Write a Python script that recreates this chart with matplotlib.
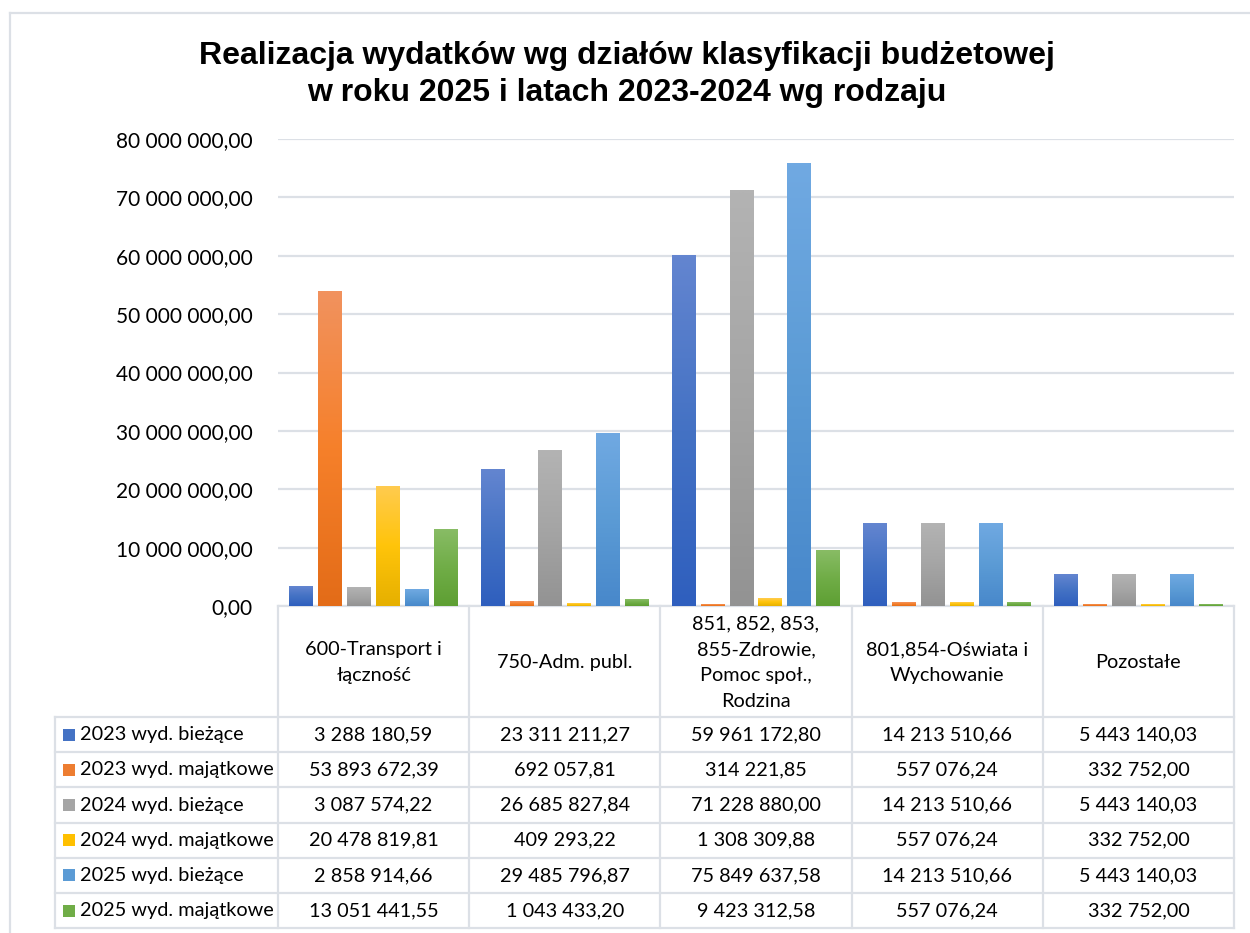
import numpy as np
import matplotlib
matplotlib.use("Agg")
import matplotlib.pyplot as plt
from matplotlib.patches import Rectangle
from matplotlib.colors import to_rgb

# ---------------- data ----------------
categories = [
    "600-Transport i\nłączność",
    "750-Adm. publ.",
    "851, 852, 853,\n855-Zdrowie,\nPomoc społ.,\nRodzina",
    "801,854-Oświata i\nWychowanie",
    "Pozostałe",
]
series_names = [
    "2023 wyd. bieżące",
    "2023 wyd. majątkowe",
    "2024 wyd. bieżące",
    "2024 wyd. majątkowe",
    "2025 wyd. bieżące",
    "2025 wyd. majątkowe",
]
v2023_biezace = [3288180.59, 23311211.27, 59961172.80, 14213510.66, 5443140.03]
v2023_majatkowe = [53893672.39, 692057.81, 314221.85, 557076.24, 332752.00]
v2024_biezace = [3087574.22, 26685827.84, 71228880.00, 14213510.66, 5443140.03]
v2024_majatkowe = [20478819.81, 409293.22, 1308309.88, 557076.24, 332752.00]
v2025_biezace = [2858914.66, 29485796.87, 75849637.58, 14213510.66, 5443140.03]
v2025_majatkowe = [13051441.55, 1043433.20, 9423312.58, 557076.24, 332752.00]
series_values = [v2023_biezace, v2023_majatkowe, v2024_biezace,
                 v2024_majatkowe, v2025_biezace, v2025_majatkowe]
yticks = [0, 10e6, 20e6, 30e6, 40e6, 50e6, 60e6, 70e6, 80e6]

title_l1 = "Realizacja wydatków wg działów klasyfikacji budżetowej"
title_l2 = "w roku 2025 i latach 2023-2024 wg rodzaju"

# ---------------- style ----------------
# gradient stops (top, middle, bottom) per series
grad = [
    ("#6385D0", "#4472C4", "#2F5FBE"),
    ("#F1925E", "#F6802A", "#E36C18"),
    ("#B3B3B3", "#A5A5A5", "#939393"),
    ("#FFCB4E", "#FFC40A", "#E6B000"),
    ("#70A9E2", "#5B9BD5", "#4888CB"),
    ("#88BC65", "#70AD47", "#5E9F33"),
]
legend_col = ["#4472C4", "#ED7D31", "#A5A5A5", "#FFC000", "#5B9BD5", "#70AD47"]
line_col = "#DCE0E6"
FONT = "Lato"
FS = 15
TFS = 14.3

W, H = 1250, 933
fig = plt.figure(figsize=(W / 100, H / 100), dpi=100)

def fx(x):
    return x / W

def fy(y):
    return 1 - y / H

# plot area in pixels
L, R, T, B = 278, 1234, 139, 606
ax = fig.add_axes([fx(L), fy(B), fx(R - L), (B - T) / H])
ax.set_facecolor("none")

n = len(categories)
x = np.arange(n)
bw = 0.125
step = 0.151
bars_all = []
for i, vals in enumerate(series_values):
    bars = ax.bar(x + (i - 2.5) * step, vals, width=bw, color=legend_col[i],
                  zorder=2, linewidth=0)
    bars_all.append(bars)

# gradient fill on each bar
for i, bars in enumerate(bars_all):
    top, mid, bot = (np.array(to_rgb(c)) for c in grad[i])
    t = np.linspace(0, 1, 64)[:, None]
    col = np.where(t < 0.5, top + (mid - top) * (t / 0.5),
                   mid + (bot - mid) * ((t - 0.5) / 0.5))
    img = col[:, None, :]
    for p in bars:
        x0, w, h = p.get_x(), p.get_width(), p.get_height()
        ax.imshow(img, extent=[x0, x0 + w, 0, h], aspect="auto",
                  zorder=3, interpolation="bilinear")

ax.set_xlim(-0.5, n - 0.5)
ax.set_ylim(0, 80e6)
ax.set_yticks(yticks)
ax.set_yticklabels([f"{int(v):,}".replace(",", " ") + ",00" for v in yticks],
                   fontsize=FS, family=FONT, color="#000000")
ax.tick_params(axis="y", length=0, pad=18.3)
ax.set_xticks([])
ax.grid(axis="y", color=line_col, linewidth=1.6, zorder=0)
for s in ax.spines.values():
    s.set_visible(False)

# overlay for frame, title and table
ov = fig.add_axes([0, 0, 1, 1], zorder=-1)
ov.set_xlim(0, W)
ov.set_ylim(H, 0)
ov.axis("off")

# outer frame
ov.plot([10, 10], [H + 5, 13], color=line_col, lw=1.6)
ov.plot([10, W + 5], [13, 13], color=line_col, lw=1.6)

# title
ov.text(627, 56, title_l1, ha="center", va="center", fontsize=23,
        fontweight="bold", family="Liberation Sans")
ov.text(627, 93, title_l2, ha="center", va="center", fontsize=23,
        fontweight="bold", family="Liberation Sans")

# table geometry
col_w = (R - L) / n
col_edges = [L + k * col_w for k in range(n + 1)]
hdr_bot = 717
row_h = 35.2
row_edges = [hdr_bot + k * row_h for k in range(len(series_names) + 1)]
tbl_left = 55

lw = 1.6
# header top (x axis line)
ov.plot([L, R], [B, B], color=line_col, lw=lw)
# horizontal row lines
for yy in row_edges:
    ov.plot([tbl_left, R], [yy, yy], color=line_col, lw=lw)
# vertical lines
for xx in col_edges:
    ov.plot([xx, xx], [B, row_edges[-1]], color=line_col, lw=lw)
ov.plot([tbl_left, tbl_left], [hdr_bot, row_edges[-1]], color=line_col, lw=lw)

# header labels
for k, cat in enumerate(categories):
    cx = (col_edges[k] + col_edges[k + 1]) / 2
    ov.text(cx, (B + hdr_bot) / 2 + 1, cat, ha="center", va="center",
            fontsize=TFS, family=FONT, linespacing=1.62)

# rows
for r, name in enumerate(series_names):
    cy = (row_edges[r] + row_edges[r + 1]) / 2
    ov.add_patch(Rectangle((63, cy - 6), 12, 12, facecolor=legend_col[r],
                           edgecolor="none"))
    ov.text(80, cy, name, ha="left", va="center", fontsize=TFS,
            family=FONT)
    for k in range(n):
        cx = (col_edges[k] + col_edges[k + 1]) / 2
        val = f"{series_values[r][k]:,.2f}".replace(",", " ").replace(".", ",")
        ov.text(cx, cy, val, ha="center", va="center", fontsize=TFS,
                family=FONT)

fig.savefig("out.png", dpi=100, facecolor="white")
